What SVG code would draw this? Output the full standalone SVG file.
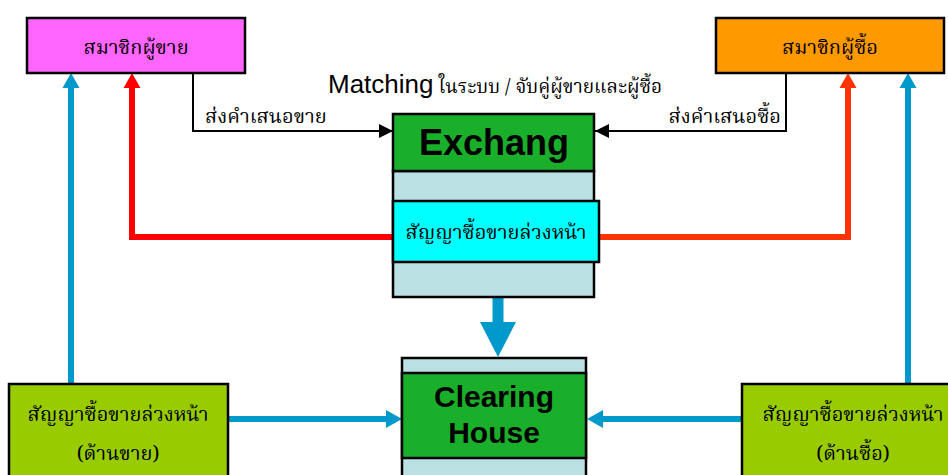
<svg xmlns="http://www.w3.org/2000/svg" width="948" height="475" viewBox="0 0 948 475">
<style>
.th{font-family:"Noto Serif Thai","Noto Sans Thai","DejaVu Serif",serif;font-size:20px;fill:#000}
.en{font-family:"Liberation Sans",Arial,sans-serif;font-weight:bold;fill:#000}
.box{stroke:#000;stroke-width:2.5}
</style>
<defs>
<marker id="ab" viewBox="0 0 10 10" refX="10" refY="5" markerWidth="14" markerHeight="14" markerUnits="userSpaceOnUse" orient="auto"><path d="M0,0L10,5L0,10z" fill="#000"/></marker>
</defs>
<g id="connectors">
<path d="M71,385V88" stroke="#0099CC" stroke-width="6" fill="none"/>
<path d="M62.5,88L71,73L79.5,88z" fill="#0099CC"/>
<path d="M908,385V88" stroke="#0099CC" stroke-width="6" fill="none"/>
<path d="M899.5,88L908,73L916.5,88z" fill="#0099CC"/>
<path d="M393,237H132V88" stroke="#FF0000" stroke-width="6" fill="none"/>
<path d="M123.5,88L132,73L140.5,88z" fill="#FF0000"/>
<path d="M600,237H848V88" stroke="#FF3300" stroke-width="6" fill="none"/>
<path d="M839.5,88L848,73L856.5,88z" fill="#FF3300"/>
<path d="M193,72V131H393" stroke="#000" stroke-width="2" fill="none" marker-end="url(#ab)"/>
<path d="M786,72V131H595" stroke="#000" stroke-width="2" fill="none" marker-end="url(#ab)"/>
<path d="M498,297V322" stroke="#0099CC" stroke-width="11" fill="none"/>
<path d="M480,322L498,357L516,322z" fill="#0099CC"/>
<path d="M229,419H386" stroke="#0099CC" stroke-width="6" fill="none"/>
<path d="M386,410L402,419L386,428z" fill="#0099CC"/>
<path d="M742,419H603" stroke="#0099CC" stroke-width="6" fill="none"/>
<path d="M603,410L587,419L603,428z" fill="#0099CC"/>
</g>
<g id="seller">
<rect class="box" x="27" y="18" width="218" height="55" fill="#FF66FF"/>
<text class="th" x="136" y="54" text-anchor="middle">สมาชิกผู้ขาย</text>
</g>
<g id="buyer">
<rect class="box" x="716" y="18" width="228" height="55" fill="#FF9900"/>
<text class="th" x="830" y="54" text-anchor="middle">สมาชิกผู้ซื้อ</text>
</g>
<g id="labels">
<text x="328" y="93"><tspan class="en" style="font-weight:normal;font-size:26px">Matching</tspan><tspan class="th" style="font-size:19px"> ในระบบ / จับคู่ผู้ขายและผู้ซื้อ</tspan></text>
<text class="th" x="205" y="123">ส่งคำเสนอขาย</text>
<text class="th" x="781" y="123" text-anchor="end">ส่งคำเสนอซื้อ</text>
</g>
<g id="exchange">
<rect class="box" x="393" y="171" width="201" height="126" fill="#BBE0E3" stroke-width="2"/>
<rect class="box" x="393" y="114" width="201" height="57" fill="#1AAF2A"/>
<text class="en" x="494" y="155" text-anchor="middle" font-size="36">Exchang</text>
</g>
<g id="contract">
<rect class="box" x="393" y="201" width="206" height="61" fill="#00FFFF" stroke-width="2"/>
<text class="th" x="496" y="239" text-anchor="middle">สัญญาซื้อขายล่วงหน้า</text>
</g>
<g id="clearing">
<rect class="box" x="402" y="358" width="184" height="130" fill="#BBE0E3" stroke-width="2"/>
<rect class="box" x="402" y="373" width="184" height="85" fill="#1AAF2A"/>
<text class="en" x="494" y="407" text-anchor="middle" font-size="30">Clearing</text>
<text class="en" x="494" y="443" text-anchor="middle" font-size="30">House</text>
</g>
<g id="sellside">
<rect class="box" x="9" y="384" width="219" height="100" fill="#99CC00"/>
<text class="th" x="118" y="421" text-anchor="middle">สัญญาซื้อขายล่วงหน้า</text>
<text class="th" x="118" y="460" text-anchor="middle">(ด้านขาย)</text>
</g>
<g id="buyside">
<rect class="box" x="742" y="384" width="215" height="100" fill="#99CC00"/>
<text class="th" x="853" y="421" text-anchor="middle">สัญญาซื้อขายล่วงหน้า</text>
<text class="th" x="853" y="460" text-anchor="middle">(ด้านซื้อ)</text>
</g>
</svg>
